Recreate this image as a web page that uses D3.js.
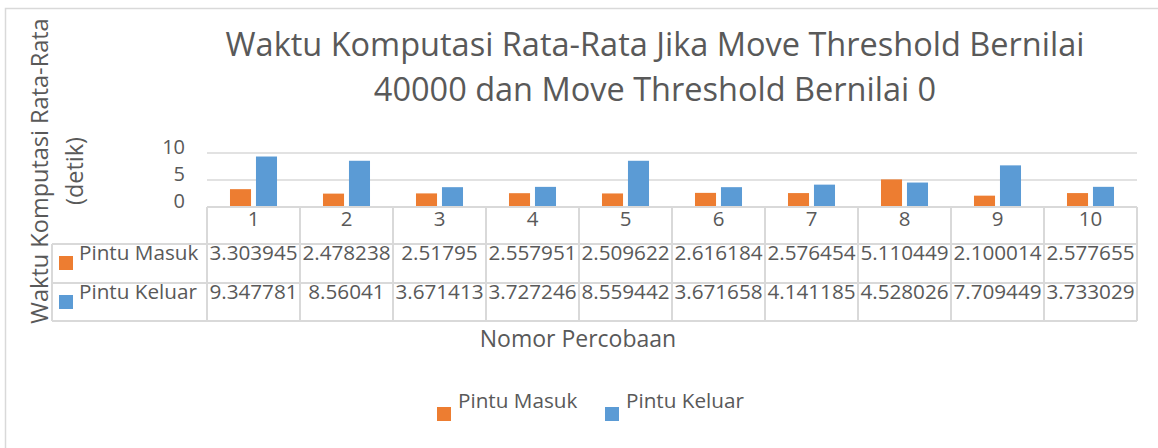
<!DOCTYPE html>
<meta charset="utf-8">
<style>
  body { margin: 0; background: #fff; }
  svg text { font-family: 'Open Sans', sans-serif; fill: #595959; }
</style>
<script src="https://d3js.org/d3.v7.min.js"></script>
<body>
<div id="chart"></div>
<script>

// data
var categories = ["1", "2", "3", "4", "5", "6", "7", "8", "9", "10"]
var pintuMasuk = [3.303945, 2.478238, 2.51795, 2.557951, 2.509622, 2.616184, 2.576454, 5.110449, 2.100014, 2.577655]
var pintuKeluar = [9.347781, 8.56041, 3.671413, 3.727246, 8.559442, 3.671658, 4.141185, 4.528026, 7.709449, 3.733029]
var seriesNames = ["Pintu Masuk", "Pintu Keluar"]
var yTicks = [0, 5, 10]

var width = 1158
    height = 448

var color = d3.scaleOrdinal().domain(seriesNames).range(["#ED7D31", "#5B9BD5"])
var gridColor = "#D9D9D9"

var svg = d3.select("#chart")
  .append("svg")
    .attr("width", width)
    .attr("height", height)

// outer chart border (runs off the right and bottom edge)
svg.append("rect")
  .attr("x", 5.5).attr("y", 8.5)
  .attr("width", 1200).attr("height", 500)
  .attr("fill", "white")
  .attr("stroke", gridColor)
  .attr("stroke-width", 1.5)

// plot area
var plotLeft = 207, plotRight = 1137, plotTop = 153, plotBottom = 207

var x = d3.scaleBand().domain(categories).range([plotLeft, plotRight])
var y = d3.scaleLinear().domain([0, 10]).range([plotBottom, plotTop])
var xs = d3.scaleBand().domain(seriesNames).range([0, x.bandwidth()])
  .paddingInner(0.19).paddingOuter(0.885)

// title
var title = svg.append("text")
  .attr("text-anchor", "middle")
  .style("font-size", "32.5px")
title.append("tspan").attr("x", 655).attr("y", 56).text("Waktu Komputasi Rata-Rata Jika Move Threshold Bernilai")
title.append("tspan").attr("x", 655).attr("y", 101).text("40000 dan Move Threshold Bernilai 0")

// y axis title
var ytitle = svg.append("text")
  .attr("text-anchor", "middle")
  .attr("transform", "translate(0,171) rotate(-90)")
  .style("font-size", "23.5px")
ytitle.append("tspan").attr("x", 0).attr("y", 48).text("Waktu Komputasi Rata-Rata")
ytitle.append("tspan").attr("x", 0).attr("y", 83).text("(detik)")

// gridlines
svg.append("g")
  .selectAll("line")
  .data(yTicks.filter(function(d){ return d > 0 }))
  .enter()
  .append("line")
    .attr("x1", plotLeft).attr("x2", plotRight)
    .attr("y1", function(d){ return y(d) }).attr("y2", function(d){ return y(d) })
    .attr("stroke", gridColor)
    .attr("stroke-width", 1.5)

// y tick labels
var yAxis = svg.append("g")
  .attr("transform", "translate(" + (plotLeft - 22) + ",0)")
  .call(d3.axisLeft(y).tickValues(yTicks).tickSize(0).tickPadding(0))
yAxis.select(".domain").remove()
yAxis.selectAll("text")
  .attr("dy", "0.02em")
  .style("font-size", "20px")
  .style("font-family", "'Open Sans', sans-serif")
  .attr("fill", "#595959")

// bars
var groups = svg.append("g")
  .selectAll("g")
  .data(categories)
  .enter()
  .append("g")
    .attr("transform", function(d){ return "translate(" + x(d) + ",0)" })

groups.selectAll("rect")
  .data(function(d, i){ return [
      {key: "Pintu Masuk", value: pintuMasuk[i]},
      {key: "Pintu Keluar", value: pintuKeluar[i]} ] })
  .enter()
  .append("rect")
    .attr("x", function(d){ return xs(d.key) })
    .attr("width", xs.bandwidth())
    .attr("y", function(d){ return y(d.value) })
    .attr("height", function(d){ return y(0) - y(d.value) })
    .attr("fill", function(d){ return color(d.key) })

// data table
var rowTops = [207, 244, 283, 321]
var legendLeft = 52
var table = svg.append("g")
  .attr("stroke", gridColor)
  .attr("stroke-width", 2)

table.append("line")
  .attr("x1", plotLeft).attr("x2", plotRight)
  .attr("y1", rowTops[0]).attr("y2", rowTops[0])
table.selectAll(".hrow")
  .data(rowTops.slice(1))
  .enter()
  .append("line")
    .attr("x1", legendLeft).attr("x2", plotRight)
    .attr("y1", function(d){ return d }).attr("y2", function(d){ return d })
table.selectAll(".vcol")
  .data(categories.map(function(d){ return x(d) }).concat([plotRight]))
  .enter()
  .append("line")
    .attr("x1", function(d){ return d }).attr("x2", function(d){ return d })
    .attr("y1", rowTops[0]).attr("y2", rowTops[3])
table.append("line")
  .attr("x1", legendLeft).attr("x2", legendLeft)
  .attr("y1", rowTops[1]).attr("y2", rowTops[3])

// category row (x axis)
var xAxis = svg.append("g")
  .attr("transform", "translate(0," + plotBottom + ")")
  .call(d3.axisBottom(x).tickSize(0).tickPadding(4))
xAxis.select(".domain").remove()
xAxis.selectAll("text")
  .style("font-size", "20.5px")
  .style("font-family", "'Open Sans', sans-serif")
  .attr("fill", "#595959")

// value rows
var rows = [pintuMasuk, pintuKeluar]
var rowBase = [260, 299]
rows.forEach(function(vals, r){
  svg.append("g")
    .selectAll("text")
    .data(vals)
    .enter()
    .append("text")
      .attr("x", function(d, i){ return x(categories[i]) + x.bandwidth() / 2 })
      .attr("y", rowBase[r])
      .attr("text-anchor", "middle")
      .style("font-size", "20.7px")
      .text(function(d){ return String(d) })

  svg.append("rect")
    .attr("x", 59).attr("y", rowBase[r] - 4)
    .attr("width", 14).attr("height", 14)
    .attr("fill", color(seriesNames[r]))
  svg.append("text")
    .attr("x", 79).attr("y", rowBase[r])
    .style("font-size", "20.7px")
    .text(seriesNames[r])
})

// x axis title
svg.append("text")
  .attr("x", 578).attr("y", 347)
  .attr("text-anchor", "middle")
  .style("font-size", "23px")
  .text("Nomor Percobaan")

// legend
var legendX = [437, 605]
var legend = svg.append("g")
legend.selectAll("rect")
  .data(seriesNames)
  .enter()
  .append("rect")
    .attr("x", function(d, i){ return legendX[i] })
    .attr("y", 407)
    .attr("width", 14).attr("height", 14)
    .attr("fill", function(d){ return color(d) })
legend.selectAll("text")
  .data(seriesNames)
  .enter()
  .append("text")
    .attr("x", function(d, i){ return legendX[i] + 21 })
    .attr("y", 408)
    .style("font-size", "20.7px")
    .text(function(d){ return d })

</script>
</body>
